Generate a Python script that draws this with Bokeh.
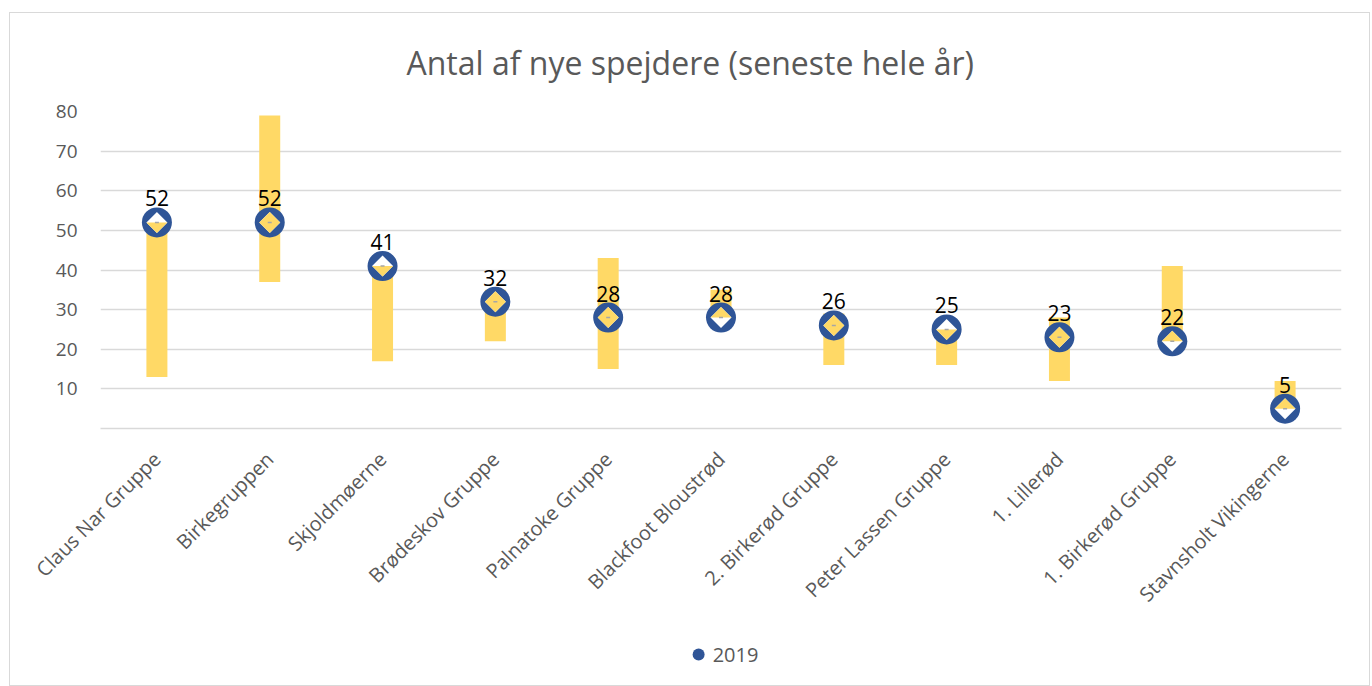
import numpy as np
from bokeh.plotting import figure
from bokeh.layouts import column
from bokeh.models import Range1d, FixedTicker, Legend, LegendItem, ColumnDataSource, Title
from bokeh.core.properties import value
from bokeh.embed import file_html
from bokeh.resources import INLINE

# ---------------- data ----------------
groups = ["Claus Nar Gruppe", "Birkegruppen", "Skjoldmøerne", "Brødeskov Gruppe",
          "Palnatoke Gruppe", "Blackfoot Bloustrød", "2. Birkerød Gruppe",
          "Peter Lassen Gruppe", "1. Lillerød", "1. Birkerød Gruppe",
          "Stavnsholt Vikingerne"]
values_2019 = [52, 52, 41, 32, 28, 28, 26, 25, 23, 22, 5]
range_low = [13, 37, 17, 22, 15, 28, 16, 16, 12, 22, 5]
range_high = [52, 79, 41, 35, 43, 35, 29, 25, 28, 41, 12]
y_ticks = [10, 20, 30, 40, 50, 60, 70, 80]
title_text = "Antal af nye spejdere (seneste hele år)"
series_name = "2019"

# ---------------- style / layout ----------------
FONT = "Open Sans"
GRAY = "#595959"
BLUE = "#2F5597"
YELLOW = "#FFD966"
GRID = "#D9D9D9"

FL, FW, FT, FH = 90, 1241, 98, 317
FR = 28
BOTTOM = 211          # space below the plot area for the category labels
LEG_H, LEG_PAD = 30, 16
n = len(groups)
y_max = 80

xs = np.arange(n) + 0.5
px_x = FW / n        # px per x unit
px_y = FH / y_max    # px per y unit

BAR_W_PX = 21
CIRCLE_PX = 30
DIAM_HALF_PX = 10.5

p = figure(frame_width=FW, frame_height=FH,
           min_border_left=FL, min_border_right=FR,
           min_border_top=FT, min_border_bottom=BOTTOM,
           x_range=Range1d(0, n), y_range=Range1d(0, y_max),
           output_backend="svg", toolbar_location=None,
           background_fill_color="white", border_fill_color="white",
           outline_line_color=None)

p.add_layout(Title(text=title_text, align="left", offset=306,
                   vertical_align="top", standoff=52,
                   text_font=FONT, text_font_size="32px", text_font_style="normal",
                   text_color=GRAY), "above")

# axes
p.xaxis.ticker = FixedTicker(ticks=list(xs))
p.xaxis.major_label_overrides = {float(x): g for x, g in zip(xs, groups)}
p.xaxis.major_label_orientation = np.pi / 4
p.xaxis.major_label_text_font = FONT
p.xaxis.major_label_text_font_size = "20px"
p.xaxis.major_label_text_color = GRAY
p.xaxis.major_label_standoff = 27
p.xaxis.major_tick_out = 0
p.xaxis.major_tick_in = 0
p.xaxis.major_tick_line_color = None
p.xaxis.minor_tick_line_color = None
p.xaxis.axis_line_color = GRID
p.xaxis.axis_line_width = 1.3

p.yaxis.ticker = FixedTicker(ticks=y_ticks)
p.yaxis.major_label_text_font = FONT
p.yaxis.major_label_text_font_size = "19px"
p.yaxis.major_label_text_color = GRAY
p.yaxis.major_label_standoff = 23
p.yaxis.major_tick_out = 0
p.yaxis.major_tick_in = 0
p.yaxis.major_tick_line_color = None
p.yaxis.minor_tick_line_color = None
p.yaxis.axis_line_color = None

p.xgrid.grid_line_color = None
p.ygrid.grid_line_color = GRID
p.ygrid.grid_line_width = 1.3

# range bars
src = ColumnDataSource(dict(x=xs, v=values_2019, lo=range_low, hi=range_high,
                            lab=[str(v) for v in values_2019]))
p.vbar(x="x", bottom="lo", top="hi", width=BAR_W_PX / px_x, source=src,
       fill_color=YELLOW, line_color=None)

# blue circle marker
p.scatter(x="x", y="v", source=src, marker="circle", size=CIRCLE_PX,
          fill_color=BLUE, line_color=None)

# white diamond inside
p.scatter(x="x", y="v", source=src, marker="square", size=2 * DIAM_HALF_PX / np.sqrt(2),
          angle=np.pi / 4, fill_color="white", line_color=None)

# yellow part of the diamond where the bar passes behind it
def clip_band(poly, lo, hi):
    def clip(poly, keep, yc):
        out = []
        for i in range(len(poly)):
            cur, prev = poly[i], poly[i - 1]
            def inter(a, b):
                t = (yc - a[1]) / (b[1] - a[1])
                return (a[0] + t * (b[0] - a[0]), yc)
            if keep(cur):
                if not keep(prev):
                    out.append(inter(prev, cur))
                out.append(cur)
            elif keep(prev):
                out.append(inter(prev, cur))
        return out
    poly = clip(poly, lambda q: q[1] >= lo - 1e-9, lo)
    if poly:
        poly = clip(poly, lambda q: q[1] <= hi + 1e-9, hi)
    return poly

dx = DIAM_HALF_PX / px_x
dy = DIAM_HALF_PX / px_y
pxs, pys = [], []
for cx, cy, lo, hi in zip(xs, values_2019, range_low, range_high):
    dia = [(cx, cy + dy), (cx + dx, cy), (cx, cy - dy), (cx - dx, cy)]
    poly = clip_band(dia, lo, hi)
    if len(poly) >= 3:
        pxs.append([q[0] for q in poly])
        pys.append([q[1] for q in poly])
p.patches(pxs, pys, fill_color=YELLOW, line_color=None)

# small gray center mark
p.scatter(x="x", y="v", source=src, marker="dash", size=4,
          line_color="#A6A6A6", line_width=1.5)

# data labels
p.text(x="x", y="v", text="lab", source=src, text_align="center",
       text_baseline="alphabetic", y_offset=-24,
       text_font=value(FONT), text_font_size="21px", text_color="black")

# ---------------- legend strip below the chart ----------------
lf = figure(frame_width=FW, frame_height=LEG_H,
            min_border_left=FL, min_border_right=FR,
            min_border_top=0, min_border_bottom=LEG_PAD,
            x_range=Range1d(0, n), y_range=Range1d(1000, 1001),
            x_axis_location=None, y_axis_location=None,
            output_backend="svg", toolbar_location=None,
            background_fill_color="white", border_fill_color="white",
            outline_line_color=None)
lf.xgrid.grid_line_color = None
lf.ygrid.grid_line_color = None
leg_r = lf.scatter(x="x", y="v", source=src, marker="circle", size=CIRCLE_PX,
                   fill_color=BLUE, line_color=None)
legend = Legend(items=[LegendItem(label=series_name, renderers=[leg_r])],
                orientation="horizontal", location="center",
                glyph_width=30, glyph_height=30, label_standoff=0,
                label_text_font=FONT, label_text_font_size="20px",
                label_text_color=GRAY, border_line_color=None,
                background_fill_alpha=0, margin=0, padding=0)
lf.add_layout(legend, "center")

layout = column(p, lf, spacing=0,
                styles={"border": "1px solid #D9D9D9", "margin-left": "9px",
                        "margin-top": "12px", "background-color": "white"})

open("out.html", "w").write(file_html(layout, INLINE))
